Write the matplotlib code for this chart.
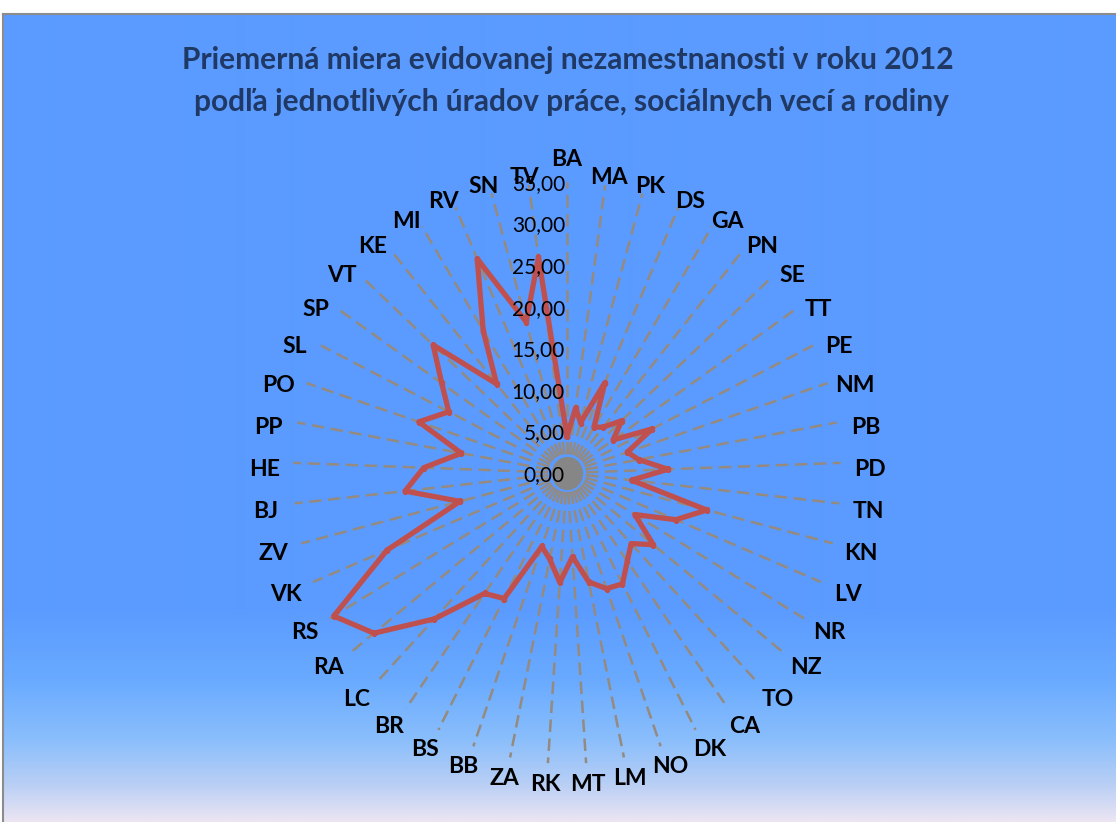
import numpy as np
import matplotlib.pyplot as plt
from matplotlib.lines import Line2D
from matplotlib.transforms import offset_copy

plt.rcParams['font.family'] = ['Lato', 'DejaVu Sans']

# úrady práce (clockwise from the top)
urady = ["BA", "MA", "PK", "DS", "GA", "PN", "SE", "TT", "PE", "NM", "PB", "PD",
         "TN", "KN", "LV", "NR", "NZ", "TO", "CA", "DK", "NO", "LM", "MT", "RK",
         "ZA", "BB", "BS", "BR", "LC", "RA", "RS", "VK", "ZV", "BJ", "HE", "PP",
         "PO", "SL", "SP", "VT", "KE", "MI", "RV", "SN", "TV"]
miera = [4.4, 7.9, 6.3, 11.9, 6.5, 7.2, 9.4, 7.1, 12.1, 8.1, 9.3, 12.9,
         8.3, 18.4, 15.0, 10.0, 14.0, 11.8, 13.1, 15.1, 14.8, 13.4, 10.1, 13.2,
         10.6, 9.4, 17.1, 17.9, 24.4, 31.3, 34.4, 24.8, 14.1, 20.8, 18.3, 13.7,
         19.9, 16.8, 19.3, 23.0, 14.0, 20.2, 28.2, 18.9, 26.2]
r_ticks = [0, 5, 10, 15, 20, 25, 30, 35]

title1 = "Priemerná miera evidovanej nezamestnanosti v roku 2012"
title2 = "podľa jednotlivých úradov práce, sociálnych vecí a rodiny"

W, H = 1116, 822
fig = plt.figure(figsize=(W / 100, H / 100), dpi=100)
fig.patch.set_facecolor('white')

# chart area background with the light gradient at the bottom
bg = fig.add_axes([3 / W, 0, 1 - 3 / W, (H - 14) / H])
rows = np.arange(14, H + 1)
stop_y = [14, 610, 680, 740, 785, 822]
stop_c = np.array([[91, 155, 255], [91, 155, 255], [105, 170, 255],
                   [138, 190, 252], [185, 207, 245], [236, 229, 243]]) / 255
grad = np.stack([np.interp(rows, stop_y, stop_c[:, i]) for i in range(3)], axis=-1)
bg.imshow(grad[:, None, :], aspect='auto', extent=[0, 1, 0, 1], interpolation='bilinear')
bg.set_axis_off()
fig.add_artist(Line2D([3 / W, 1], [(H - 14) / H] * 2, color='#8c8c8c', lw=1.5))
fig.add_artist(Line2D([3 / W] * 2, [0, (H - 14) / H], color='#8c8c8c', lw=1.5))

fig.text(568 / W, 1 - 60 / H, title1, ha='center', va='center',
         fontsize=21.5, fontweight='bold', color='#1F3864')
fig.text(571 / W, 1 - 102 / H, title2, ha='center', va='center',
         fontsize=21.5, fontweight='bold', color='#1F3864')

# radar (slightly squeezed horizontally, like the original)
cx, cy, Rx, Ry = 567, 473, 274, 291
ax = fig.add_axes([(cx - Rx) / W, (H - cy - Ry) / H, 2 * Rx / W, 2 * Ry / H],
                  projection='polar')
ax.set_aspect('auto')
ax.set_facecolor('none')
ax.set_theta_zero_location('N')
ax.set_theta_direction(-1)
ax.set_ylim(0, 35)
ax.grid(False)
ax.spines['polar'].set_visible(False)
ax.set_xticks([])
ax.set_yticks([])

n = len(urady)
uhly = np.arange(n) * 2 * np.pi / n
for a in uhly:
    ax.plot([a, a], [0, 35], color='#948a7f', lw=1.8, ls=(0, (5, 2.6)), zorder=1)
kruh = np.linspace(0, 2 * np.pi, 100)
ax.fill_between(kruh, 0, 2.0, color='#868686', lw=0, zorder=2)

ax.plot(np.append(uhly, uhly[0]), miera + miera[:1], color='#C0504D', lw=3.8,
        marker='s', ms=3, zorder=3)

tick_tr = offset_copy(ax.transData, fig=fig, x=-2, y=-2, units='dots')
for v in r_ticks:
    ax.text(0, v, f"{v:.2f}".replace('.', ','), transform=tick_tr, ha='right',
            va='center', fontsize=15, color='black', zorder=4)

for a, u in zip(uhly, urady):
    dy = -7 + (16 if np.isclose(a, 0) else 0)   # top label sits above the value labels
    tr = offset_copy(ax.transAxes, fig=fig, x=0, y=dy, units='dots')
    ax.text(0.5 + 0.553 * np.sin(a), 0.5 + 0.524 * np.cos(a), u, transform=tr,
            ha='center', va='center', fontsize=16.5, fontweight='bold', color='black')

fig.savefig("out.png", dpi=100)
